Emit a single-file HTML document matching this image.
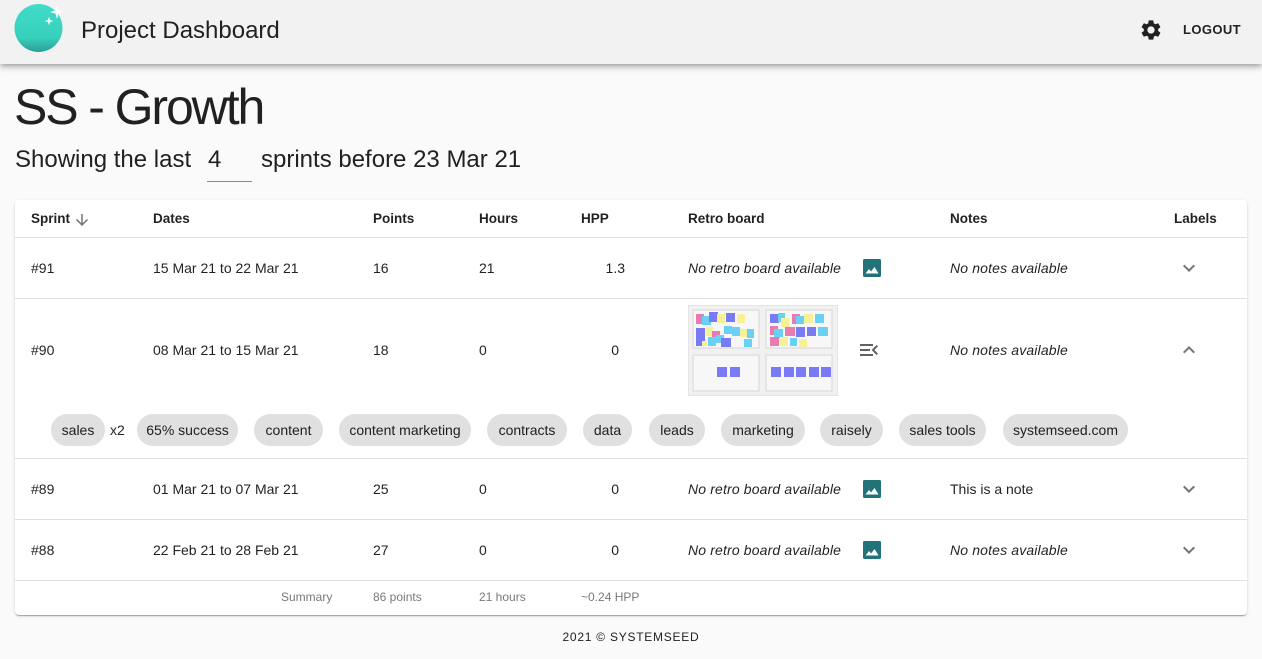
<!DOCTYPE html>
<html><head><meta charset="utf-8">
<style>
*{margin:0;padding:0;box-sizing:border-box}
html,body{width:1262px;height:659px;overflow:hidden;background:#fafafa;font-family:"Liberation Sans",Arial,sans-serif;color:rgba(0,0,0,.87)}
.a{position:absolute;white-space:nowrap}
.t{font-size:14px;line-height:20px;height:20px}
.h{font-weight:bold;font-size:13.5px}
.i{font-style:italic;letter-spacing:.15px}
.s{font-size:12px;line-height:20px;color:rgba(0,0,0,.54)}
.chip{position:absolute;top:414px;height:32px;border-radius:16px;background:#e0e0e0;font-size:14px;line-height:32px;text-align:center;color:rgba(0,0,0,.87)}
.line{position:absolute;left:15px;width:1232px;height:1px;background:#e0e0e0}
</style></head><body>
<!-- app bar -->
<div class="a" style="left:0;top:0;width:1262px;height:64px;background:#f2f2f2;box-shadow:0 2px 4px -1px rgba(0,0,0,.2),0 4px 5px 0 rgba(0,0,0,.14),0 1px 10px 0 rgba(0,0,0,.12)"></div>
<svg class="a" style="left:13px;top:2px" width="54" height="54" viewBox="0 0 54 54">
<defs><linearGradient id="lg" x1="0" y1="0" x2="0" y2="1"><stop offset="0" stop-color="#40dcc9"/><stop offset=".7" stop-color="#38d0bc"/><stop offset="1" stop-color="#2a9f95"/></linearGradient></defs>
<circle cx="25.5" cy="26" r="24" fill="url(#lg)"/>
<path d="M44 3 L45.5 8.5 L51 10 L45.5 11.5 L44 17 L42.5 11.5 L37 10 L42.5 8.5Z" fill="#fff"/>
<path d="M36 14.5 L37 18 L40.5 19 L37 20 L36 23.5 L35 20 L31.5 19 L35 18Z" fill="#fff"/>
</svg>
<div class="a" style="left:81px;top:16px;font-size:24px;line-height:30px;color:#212121">Project Dashboard</div>
<svg class="a" style="left:1139px;top:18px" width="24" height="24" viewBox="0 0 24 24"><path fill="#212121" d="M19.14,12.94c0.04-0.3,0.06-0.61,0.06-0.94c0-0.32-0.02-0.64-0.07-0.94l2.03-1.58c0.18-0.14,0.23-0.41,0.12-0.61 l-1.92-3.320c-0.12-0.22-0.37-0.29-0.59-0.22l-2.39,0.96c-0.5-0.38-1.03-0.7-1.62-0.94L14.4,2.81c-0.04-0.24-0.24-0.41-0.48-0.41 h-3.84c-0.24,0-0.43,0.17-0.47,0.41L9.25,5.35C8.660,5.59,8.12,5.92,7.63,6.29L5.24,5.33c-0.22-0.08-0.47,0-0.59,0.22L2.74,8.87 C2.62,9.08,2.66,9.34,2.86,9.48l2.03,1.58C4.84,11.36,4.8,11.69,4.8,12s0.02,0.64,0.07,0.94l-2.03,1.58 c-0.18,0.14-0.23,0.41-0.12,0.61l1.92,3.32c0.12,0.22,0.37,0.29,0.59,0.22l2.39-0.96c0.5,0.38,1.03,0.7,1.62,0.94l0.36,2.54 c0.05,0.24,0.24,0.41,0.48,0.41h3.84c0.24,0,0.44-0.17,0.47-0.41l0.36-2.54c0.59-0.24,1.13-0.56,1.62-0.94l2.39,0.96 c0.22,0.08,0.47,0,0.59-0.22l1.92-3.32c0.12-0.22,0.07-0.47-0.12-0.61L19.14,12.94z M12,15.6c-1.98,0-3.6-1.62-3.6-3.6 s1.62-3.6,3.6-3.6s3.6,1.62,3.6,3.6S13.98,15.6,12,15.6z"/></svg>
<div class="a" style="left:1183px;top:20px;font-size:13px;line-height:20px;font-weight:bold;letter-spacing:.4px;color:#212121">LOGOUT</div>

<!-- title -->
<div class="a" style="left:14px;top:82px;font-size:50px;line-height:50px;letter-spacing:-2.1px;color:#212121">SS - Growth</div>
<div class="a" style="left:15px;top:145px;font-size:24px;line-height:30px;color:#212121">Showing the last</div>
<div class="a" style="left:208px;top:145px;font-size:24px;line-height:30px;color:#212121">4</div>
<div class="a" style="left:207px;top:181px;width:45px;height:1px;background:#8a8a8a"></div>
<div class="a" style="left:261px;top:145px;font-size:24px;line-height:30px;color:#212121">sprints before 23 Mar 21</div>

<!-- card -->
<div class="a" style="left:15px;top:200px;width:1232px;height:415px;background:#fff;border-radius:4px;box-shadow:0 2px 1px -1px rgba(0,0,0,.2),0 1px 1px 0 rgba(0,0,0,.14),0 1px 3px 0 rgba(0,0,0,.12)"></div>
<div class="line" style="top:237px"></div>
<div class="line" style="top:298px"></div>
<div class="line" style="top:458px"></div>
<div class="line" style="top:519px"></div>
<div class="line" style="top:580px"></div>

<!-- header row -->
<div class="a t h" style="left:31px;top:209px">Sprint</div>
<svg class="a" style="left:73px;top:211px" width="18" height="18" viewBox="0 0 24 24"><path fill="#757575" d="M20 12l-1.41-1.41L13 16.17V4h-2v12.17l-5.58-5.59L4 12l8 8 8-8z"/></svg>
<div class="a t h" style="left:153px;top:209px">Dates</div>
<div class="a t h" style="left:373px;top:209px">Points</div>
<div class="a t h" style="left:479px;top:209px">Hours</div>
<div class="a t h" style="left:581px;top:209px">HPP</div>
<div class="a t h" style="left:688px;top:209px">Retro board</div>
<div class="a t h" style="left:950px;top:209px">Notes</div>
<div class="a t h" style="left:1174px;top:209px">Labels</div>

<!-- row 91 -->
<div class="a t" style="left:31px;top:258px">#91</div>
<div class="a t" style="left:153px;top:258px">15 Mar 21 to 22 Mar 21</div>
<div class="a t" style="left:373px;top:258px">16</div>
<div class="a t" style="left:479px;top:258px">21</div>
<div class="a t" style="left:525px;top:258px;width:100px;text-align:right">1.3</div>
<div class="a t i" style="left:688px;top:258px">No retro board available</div>
<svg class="a" style="left:860px;top:256px" width="24" height="24" viewBox="0 0 24 24"><rect x="3" y="3" width="18" height="18" rx="1.5" fill="#23727a"/><path fill="#fff" d="M5.5 17.5 L9 13 L11 15.5 L14.5 11 L18.5 17.5Z"/></svg>
<div class="a t i" style="left:950px;top:258px">No notes available</div>
<svg class="a" style="left:1177px;top:256px" width="24" height="24" viewBox="0 0 24 24"><path fill="#757575" d="M16.59 8.59L12 13.17 7.41 8.59 6 10l6 6 6-6z"/></svg>

<!-- row 90 -->
<div class="a t" style="left:31px;top:340px">#90</div>
<div class="a t" style="left:153px;top:340px">08 Mar 21 to 15 Mar 21</div>
<div class="a t" style="left:373px;top:340px">18</div>
<div class="a t" style="left:479px;top:340px">0</div>
<div class="a t" style="left:525px;top:340px;width:94px;text-align:right">0</div>
<svg class="a" style="left:688px;top:305px" width="150" height="91" viewBox="0 0 150 91">
<rect x="0" y="0" width="150" height="91" fill="#f1f1f1" stroke="#d8d8d8"/>
<rect x="5" y="5" width="66" height="38" fill="#f7f7f7" stroke="#cfcfcf" stroke-width=".8"/>
<rect x="78" y="5" width="66" height="38" fill="#f7f7f7" stroke="#cfcfcf" stroke-width=".8"/>
<rect x="5" y="50" width="66" height="36" fill="#f7f7f7" stroke="#cfcfcf" stroke-width=".8"/>
<rect x="78" y="50" width="66" height="36" fill="#f7f7f7" stroke="#cfcfcf" stroke-width=".8"/>
<g opacity=".9">
<rect x="8" y="9" width="8" height="10" fill="#e56fa8"/>
<rect x="14" y="11" width="9" height="9" fill="#5bcdf5"/>
<rect x="21" y="7" width="9" height="10" fill="#6d6df5"/>
<rect x="29" y="9" width="8" height="9" fill="#f6f08c"/>
<rect x="38" y="8" width="9" height="9" fill="#6d6df5"/>
<rect x="49" y="9" width="8" height="9" fill="#f6f08c"/>
<rect x="8" y="23" width="9" height="10" fill="#6d6df5"/>
<rect x="18" y="22" width="7" height="9" fill="#f6f08c"/>
<rect x="24" y="26" width="8" height="8" fill="#e56fa8"/>
<rect x="28" y="30" width="8" height="8" fill="#5bcdf5"/>
<rect x="36" y="21" width="8" height="8" fill="#5bcdf5"/>
<rect x="44" y="22" width="8" height="9" fill="#5bcdf5"/>
<rect x="52" y="24" width="8" height="8" fill="#f6f08c"/>
<rect x="59" y="24" width="7" height="9" fill="#5bcdf5"/>
<rect x="8" y="33" width="9" height="8" fill="#6d6df5"/>
<rect x="20" y="32" width="8" height="9" fill="#5bcdf5"/>
<rect x="33" y="33" width="10" height="9" fill="#6d6df5"/>
<rect x="56" y="34" width="8" height="8" fill="#5bcdf5"/>
<rect x="14" y="36" width="5" height="5" fill="#f6f08c"/>
<rect x="82" y="9" width="9" height="9" fill="#6d6df5"/>
<rect x="90" y="8" width="7" height="9" fill="#5bcdf5"/>
<rect x="93" y="13" width="8" height="9" fill="#f6f08c"/>
<rect x="104" y="9" width="8" height="10" fill="#e56fa8"/>
<rect x="108" y="11" width="8" height="8" fill="#5bcdf5"/>
<rect x="116" y="9" width="9" height="9" fill="#f6f08c"/>
<rect x="127" y="9" width="9" height="9" fill="#5bcdf5"/>
<rect x="82" y="21" width="8" height="9" fill="#e56fa8"/>
<rect x="86" y="24" width="9" height="9" fill="#5bcdf5"/>
<rect x="97" y="22" width="10" height="9" fill="#e56fa8"/>
<rect x="108" y="22" width="9" height="10" fill="#6d6df5"/>
<rect x="119" y="22" width="9" height="9" fill="#6d6df5"/>
<rect x="130" y="22" width="10" height="9" fill="#5bcdf5"/>
<rect x="82" y="32" width="9" height="9" fill="#e56fa8"/>
<rect x="92" y="32" width="8" height="9" fill="#f6f08c"/>
<rect x="102" y="33" width="7" height="8" fill="#5bcdf5"/>
<rect x="111" y="34" width="8" height="8" fill="#f6f08c"/>
<rect x="29" y="62" width="10" height="10" fill="#6d6df5"/>
<rect x="42" y="62" width="10" height="10" fill="#6d6df5"/>
<rect x="83" y="62" width="10" height="10" fill="#6d6df5"/>
<rect x="96" y="62" width="10" height="10" fill="#6d6df5"/>
<rect x="108" y="62" width="10" height="10" fill="#6d6df5"/>
<rect x="121" y="62" width="10" height="10" fill="#6d6df5"/>
<rect x="133" y="62" width="10" height="10" fill="#6d6df5"/>
</g>
</svg>
<svg class="a" style="left:857px;top:338px" width="24" height="24" viewBox="0 0 24 24"><path fill="#616161" d="M3 18h13v-2H3v2zm0-5h10v-2H3v2zm0-7v2h13V6H3zm18 9.59L17.42 12 21 8.41 19.59 7l-5 5 5 5L21 15.59z"/></svg>
<div class="a t i" style="left:950px;top:340px">No notes available</div>
<svg class="a" style="left:1177px;top:338px" width="24" height="24" viewBox="0 0 24 24"><path fill="#757575" d="M12 8l-6 6 1.41 1.41L12 10.83l4.59 4.58L18 14z"/></svg>

<!-- chips -->
<div class="chip" style="left:51px;width:54px">sales</div>
<div class="a t" style="left:110px;top:420px">x2</div>
<div class="chip" style="left:137px;width:101px">65% success</div>
<div class="chip" style="left:254px;width:69px">content</div>
<div class="chip" style="left:339px;width:132px">content marketing</div>
<div class="chip" style="left:487px;width:80px">contracts</div>
<div class="chip" style="left:583px;width:49px">data</div>
<div class="chip" style="left:649px;width:56px">leads</div>
<div class="chip" style="left:721px;width:84px">marketing</div>
<div class="chip" style="left:820px;width:63px">raisely</div>
<div class="chip" style="left:899px;width:87px">sales tools</div>
<div class="chip" style="left:1003px;width:125px">systemseed.com</div>

<!-- row 89 -->
<div class="a t" style="left:31px;top:479px">#89</div>
<div class="a t" style="left:153px;top:479px">01 Mar 21 to 07 Mar 21</div>
<div class="a t" style="left:373px;top:479px">25</div>
<div class="a t" style="left:479px;top:479px">0</div>
<div class="a t" style="left:525px;top:479px;width:94px;text-align:right">0</div>
<div class="a t i" style="left:688px;top:479px">No retro board available</div>
<svg class="a" style="left:860px;top:477px" width="24" height="24" viewBox="0 0 24 24"><rect x="3" y="3" width="18" height="18" rx="1.5" fill="#23727a"/><path fill="#fff" d="M5.5 17.5 L9 13 L11 15.5 L14.5 11 L18.5 17.5Z"/></svg>
<div class="a t" style="left:950px;top:479px">This is a note</div>
<svg class="a" style="left:1177px;top:477px" width="24" height="24" viewBox="0 0 24 24"><path fill="#757575" d="M16.59 8.59L12 13.17 7.41 8.59 6 10l6 6 6-6z"/></svg>

<!-- row 88 -->
<div class="a t" style="left:31px;top:540px">#88</div>
<div class="a t" style="left:153px;top:540px">22 Feb 21 to 28 Feb 21</div>
<div class="a t" style="left:373px;top:540px">27</div>
<div class="a t" style="left:479px;top:540px">0</div>
<div class="a t" style="left:525px;top:540px;width:94px;text-align:right">0</div>
<div class="a t i" style="left:688px;top:540px">No retro board available</div>
<svg class="a" style="left:860px;top:538px" width="24" height="24" viewBox="0 0 24 24"><rect x="3" y="3" width="18" height="18" rx="1.5" fill="#23727a"/><path fill="#fff" d="M5.5 17.5 L9 13 L11 15.5 L14.5 11 L18.5 17.5Z"/></svg>
<div class="a t i" style="left:950px;top:540px">No notes available</div>
<svg class="a" style="left:1177px;top:538px" width="24" height="24" viewBox="0 0 24 24"><path fill="#757575" d="M16.59 8.59L12 13.17 7.41 8.59 6 10l6 6 6-6z"/></svg>

<!-- summary -->
<div class="a s" style="left:281px;top:587px">Summary</div>
<div class="a s" style="left:373px;top:587px">86 points</div>
<div class="a s" style="left:479px;top:587px">21 hours</div>
<div class="a s" style="left:581px;top:587px">~0.24 HPP</div>

<!-- footer -->
<div class="a" style="left:0;top:627px;width:1262px;text-align:center;font-size:12px;line-height:20px;letter-spacing:.75px;color:#212121">2021 © SYSTEMSEED</div>
</body></html>
